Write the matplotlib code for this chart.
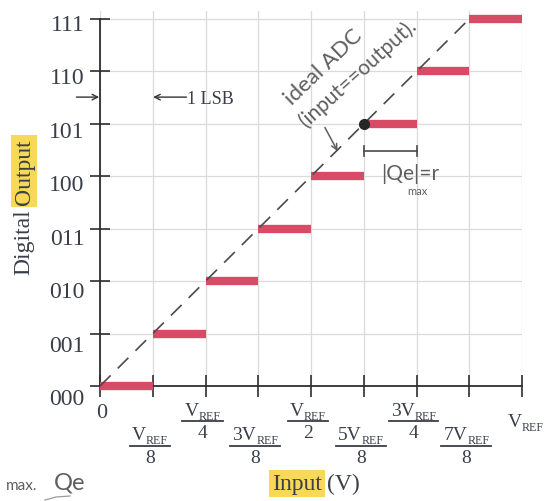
import matplotlib
matplotlib.use("Agg")
import matplotlib.pyplot as plt
from matplotlib.lines import Line2D
from matplotlib.transforms import ScaledTranslation

# ---- data -------------------------------------------------------------
codes = ["000", "001", "010", "011", "100", "101", "110", "111"]
levels = [0, 1, 2, 3, 4, 5, 6, 7]
bar_start = [0.0, 0.125, 0.25, 0.375, 0.5, 0.625, 0.75, 0.875]
bar_end = [0.125, 0.25, 0.375, 0.5, 0.625, 0.75, 0.875, 1.0]

x_ticks = [0.0, 0.125, 0.25, 0.375, 0.5, 0.625, 0.75, 0.875, 1.0]
x_tick_text = ["0", "V/8", "V/4", "3V/8", "V/2", "5V/8", "3V/4", "7V/8", "V"]

ideal_x = [0.0, 0.875]
ideal_y = [0, 7]
max_err_x, max_err_y = 0.625, 5

# ---- style ------------------------------------------------------------
W, H = 547, 502
SERIF = "Liberation Serif"
HAND = "Lato"
INK = "#3a3e48"
PENCIL = "#5e5e5e"
RED = "#d84b66"

fig = plt.figure(figsize=(W / 100, H / 100), dpi=100)
fig.patch.set_facecolor("white")
unit = 52.43
ytop = 7.15
ax = fig.add_axes([100 / W, 1 - 387 / H, 422 / W, ytop * unit / H])
ax.set_xlim(0, 1)
ax.set_ylim(0, ytop)

for s in ("top", "right"):
    ax.spines[s].set_visible(False)
ax.spines["left"].set_bounds(0, 7)
ax.spines["bottom"].set_bounds(0, 1)
for s in ("left", "bottom"):
    ax.spines[s].set_color("#2e2e2e")
    ax.spines[s].set_linewidth(1.3)

ax.set_axisbelow(True)
ax.grid(True, color="#dadada", lw=0.9)

ax.set_xticks(x_ticks)
ax.set_xticklabels([""] * len(x_ticks))
ax.tick_params(axis="x", direction="inout", length=16, width=1.2, color="#2e2e2e")
ax.set_yticks(levels)
ax.set_yticklabels(codes, fontfamily=SERIF, fontsize=17, color=INK)
ax.tick_params(axis="y", direction="inout", length=14, width=1.2, color="#2e2e2e", pad=4)
for k, lab in enumerate(ax.get_yticklabels()):
    shift = (3 + (7 - k)) / 100
    lab.set_transform(lab.get_transform() + ScaledTranslation(0, -shift, fig.dpi_scale_trans))

# quantizer output steps
bars = ax.hlines(levels, bar_start, bar_end, colors=RED, lw=6, zorder=3, clip_on=False)
bars.set_capstyle("butt")

# ideal converter line
ax.plot(ideal_x, ideal_y, ls=(0, (9, 6)), color="#4a4a4a", lw=1.2, zorder=4, clip_on=False)
ax.plot([max_err_x], [max_err_y], "o", color="#262626", ms=7, zorder=5, clip_on=False)

# ---- x tick labels as stacked fractions ---------------------------------
fig.canvas.draw()
renderer = fig.canvas.get_renderer()


def fy(py):
    return 1 - py / H


def vref(cx, base, head, size=14):
    """Draw e.g. '3V' followed by a small 'REF' subscript, centred on cx.
    Returns the pixel width of the group."""
    big = fig.text(0, fy(base), head, ha="left", va="baseline",
                   fontfamily=SERIF, fontsize=size, color=INK)
    sub = fig.text(0, fy(base + 4), "REF", ha="left", va="baseline",
                   fontfamily=SERIF, fontsize=size * 0.62, color=INK)
    wb = big.get_window_extent(renderer).width
    ws = sub.get_window_extent(renderer).width
    total = wb + ws
    left = cx * W - total / 2
    big.set_x(left / W)
    sub.set_x((left + wb) / W)
    return total


for i, (xv, txt) in enumerate(zip(x_ticks, x_tick_text)):
    cx = ax.transData.transform((xv, 0))[0] / W
    if "/" not in txt:
        if txt == "0":
            fig.text(cx + 2 / W, fy(414), txt, ha="center", va="center",
                     fontfamily=SERIF, fontsize=16, color=INK)
        else:
            vref(cx + 4 / W, 427, txt)
        continue
    num, den = txt.split("/")
    upper = (i % 2 == 0)
    base, bar_y, den_top = (416, 422, 425) if upper else (440, 447, 450)
    cx -= 3 / W
    width = vref(cx, base, num)
    fig.text(cx, fy(den_top), den, ha="center", va="top",
             fontfamily=SERIF, fontsize=14, color=INK)
    half = (width / 2 + 2) / W
    fig.add_artist(Line2D([cx - half, cx + half], [fy(bar_y), fy(bar_y)],
                          color=INK, lw=1.3, transform=fig.transFigure))

# ---- axis titles ------------------------------------------------------
hl = dict(facecolor="#f6d23a", edgecolor="none", alpha=0.85, pad=2.0)
fig.text(24 / W, fy(242), "Digital", rotation=90, ha="center", va="center",
         fontfamily=SERIF, fontsize=17, color=INK)
fig.text(24 / W, fy(172), "Output", rotation=90, ha="center", va="center",
         fontfamily=SERIF, fontsize=17, color=INK, bbox=hl)
fig.text(297 / W, fy(490), "Input", ha="center", va="baseline",
         fontfamily=SERIF, fontsize=17, color=INK, bbox=hl)
fig.text(327 / W, fy(490), "(V)", ha="left", va="baseline",
         fontfamily=SERIF, fontsize=17, color=INK)

# ---- annotations ------------------------------------------------------
arrow = dict(arrowstyle="->", color="#333333", lw=1.0, shrinkA=0, shrinkB=0)
ax.annotate("", xy=(0.126, 5.51), xytext=(0.205, 5.51), arrowprops=arrow,
            annotation_clip=False)
ax.text(0.207, 5.49, "1 LSB", ha="left", va="center", fontfamily=SERIF,
        fontsize=13, color=INK)
ax.annotate("", xy=(-0.002, 5.51), xytext=(-0.056, 5.51), arrowprops=arrow,
            annotation_clip=False)

# handwritten notes
ax.text(0.53, 6.1, "ideal ADC", rotation=44, ha="center", va="center",
        fontfamily=HAND, fontsize=16, color=PENCIL)
ax.text(0.612, 5.99, "(input==output).", rotation=42, ha="center", va="center",
        fontfamily=HAND, fontsize=15, color=PENCIL)
ax.annotate("", xy=(0.563, 4.48), xytext=(0.533, 4.93),
            arrowprops=dict(arrowstyle="->", color=PENCIL, lw=1.1, shrinkA=0, shrinkB=0),
            annotation_clip=False)

# |Qe| span bracket
ax.plot([0.625, 0.75], [4.48, 4.48], color="#4a4a4a", lw=1.2, zorder=4)
ax.plot([0.625, 0.625], [4.38, 4.58], color="#4a4a4a", lw=1.2, zorder=4)
ax.plot([0.75, 0.75], [4.38, 4.58], color="#4a4a4a", lw=1.2, zorder=4)
ax.text(0.736, 4.07, "|Qe|=r", ha="center", va="center",
        fontfamily=HAND, fontsize=15, color=PENCIL)
ax.text(0.752, 3.72, "max", ha="center", va="center",
        fontfamily=HAND, fontsize=8, color=PENCIL)

fig.text(6 / W, fy(490), "max.", ha="left", va="baseline",
         fontfamily=HAND, fontsize=11, color=PENCIL)
fig.text(54 / W, fy(490), "Qe", ha="left", va="baseline",
         fontfamily=HAND, fontsize=17, color=PENCIL)
fig.add_artist(Line2D([45 / W, 56 / W, 70 / W], [fy(501), fy(498), fy(497)],
                      color="#9a9a9a", lw=0.9, transform=fig.transFigure))

fig.savefig("out.png", dpi=100, facecolor="white")
